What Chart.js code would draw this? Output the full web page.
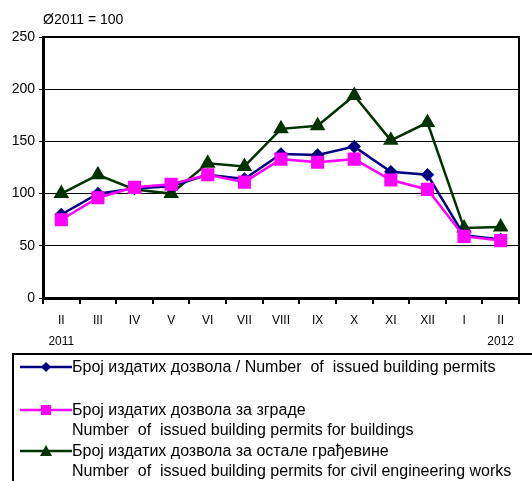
<!DOCTYPE html>
<html>
<head>
<meta charset="utf-8">
<script src="https://cdn.jsdelivr.net/npm/chart.js@4.4.0/dist/chart.umd.min.js"></script>
<style>
   body { margin: 0; background: #fff; }
   #wrap { position: relative; width: 532px; height: 481px; overflow: hidden; }
   #graph { position: absolute; left: 0; top: 0; }
   #legend { position: absolute; left: 12px; top: 353px; width: 530px; height: 140px; border: 2px solid #000; box-sizing: border-box; font: 16px "Liberation Sans", Arial, sans-serif; color: #000; }
   .item { position: absolute; left: 6px; }
   .item svg { position: absolute; left: 0; top: 3px; }
   .item span { position: absolute; left: 52px; white-space: nowrap; line-height: 20px; }
</style>
</head>
<body>
<div id="wrap">
   <canvas id="graph" width="532" height="360"></canvas>
   <div id="legend">
      <div class="item" style="top:2px">
         <svg width="52" height="14"><line x1="0" y1="7" x2="52" y2="7" stroke="#000080" stroke-width="2.5"/><polygon points="26,2 31,7 26,12 21,7" fill="#000080"/></svg>
         <span>Број издатих дозвола / Number&nbsp; of&nbsp; issued building permits</span>
      </div>
      <div class="item" style="top:45px">
         <svg width="52" height="14"><line x1="0" y1="7" x2="52" y2="7" stroke="#ff00ff" stroke-width="2.5"/><rect x="21" y="2" width="10" height="10" fill="#ff00ff"/></svg>
         <span>Број издатих дозвола за зграде<br>Number&nbsp; of&nbsp; issued building permits for buildings</span>
      </div>
      <div class="item" style="top:86px">
         <svg width="52" height="14"><line x1="0" y1="7" x2="52" y2="7" stroke="#003300" stroke-width="2.5"/><polygon points="26,1 32,12 20,12" fill="#003300"/></svg>
         <span>Број издатих дозвола за остале грађевине<br>Number&nbsp; of&nbsp; issued building permits for civil engineering works</span>
      </div>
   </div>
</div>
<script>
   // data
   const months = [['II', '2011'], 'III', 'IV', 'V', 'VI', 'VII', 'VIII', 'IX', 'X', 'XI', 'XII', 'I', ['II', '2012']];
   const allPermits = [80, 100, 105, 107, 118, 114, 138, 137, 145, 121, 118, 60, 56];
   const buildings = [75, 96, 106, 109, 118, 111, 133, 130, 133, 113, 104, 59, 55];
   const civilWorks = [100, 118, 104, 100, 129, 126, 162, 165, 194, 151, 168, 67, 68];
   const yTicks = [0, 50, 100, 150, 200, 250];

   const frame = {
      id: 'frame',
      afterDraw(chart) {
         const { ctx, chartArea: a } = chart;
         ctx.save();
         ctx.strokeStyle = '#000';
         ctx.lineWidth = 2;
         ctx.beginPath();
         ctx.moveTo(a.left, a.top);
         ctx.lineTo(a.right, a.top);
         ctx.lineTo(a.right, a.bottom);
         ctx.stroke();
         ctx.fillStyle = '#000';
         ctx.font = '14px Arial, "Liberation Sans", sans-serif';
         ctx.textBaseline = 'alphabetic';
         ctx.fillText('Ø2011 = 100', 43, 24);
         ctx.restore();
      }
   };

   const graph = document.getElementById('graph');
   new Chart(graph, {
      type: 'line',
      data: {
         labels: months,
         datasets: [{
            label: 'Број издатих дозвола / Number of issued building permits',
            data: allPermits,
            borderColor: '#000080',
            backgroundColor: '#000080',
            borderWidth: 2.5,
            pointStyle: 'rectRot',
            pointRadius: 5,
            order: 2
         },
         {
            label: 'Број издатих дозвола за зграде',
            data: buildings,
            borderColor: '#ff00ff',
            backgroundColor: '#ff00ff',
            borderWidth: 2.5,
            pointStyle: 'rect',
            pointRadius: 7.5,
            order: 1
         },
         {
            label: 'Број издатих дозвола за остале грађевине',
            data: civilWorks,
            borderColor: '#003300',
            backgroundColor: '#003300',
            borderWidth: 2.5,
            pointStyle: 'triangle',
            pointRadius: 6.5,
            order: 3
         }]
      },
      options: {
         responsive: false,
         animation: false,
         layout: {
            padding: { top: 37, right: 13, bottom: 2, left: 0 }
         },
         scales: {
            x: {
               offset: true,
               grid: {
                  offset: true,
                  drawOnChartArea: false,
                  color: '#000',
                  lineWidth: 2,
                  tickLength: 6
               },
               border: { color: '#000', width: 3 },
               ticks: {
                  color: '#000',
                  maxRotation: 0,
                  autoSkip: false,
                  padding: 6,
                  font: { family: '"Liberation Sans Narrow", "Arial Narrow", Arial, sans-serif', size: 12, lineHeight: 1.75 }
               }
            },
            y: {
               min: 0,
               max: 250,
               afterBuildTicks(scale) {
                  scale.ticks = yTicks.map(v => ({ value: v }));
               },
               afterFit(scale) {
                  scale.width = 43;
               },
               grid: {
                  color: '#000',
                  lineWidth: 1,
                  tickLength: 4
               },
               border: { color: '#000', width: 3 },
               ticks: {
                  color: '#000',
                  padding: 4,
                  font: { family: 'Arial, "Liberation Sans", sans-serif', size: 14 }
               }
            }
         },
         plugins: {
            legend: { display: false },
            tooltip: { enabled: false }
         }
      },
      plugins: [frame]
   });
</script>
</body>
</html>
